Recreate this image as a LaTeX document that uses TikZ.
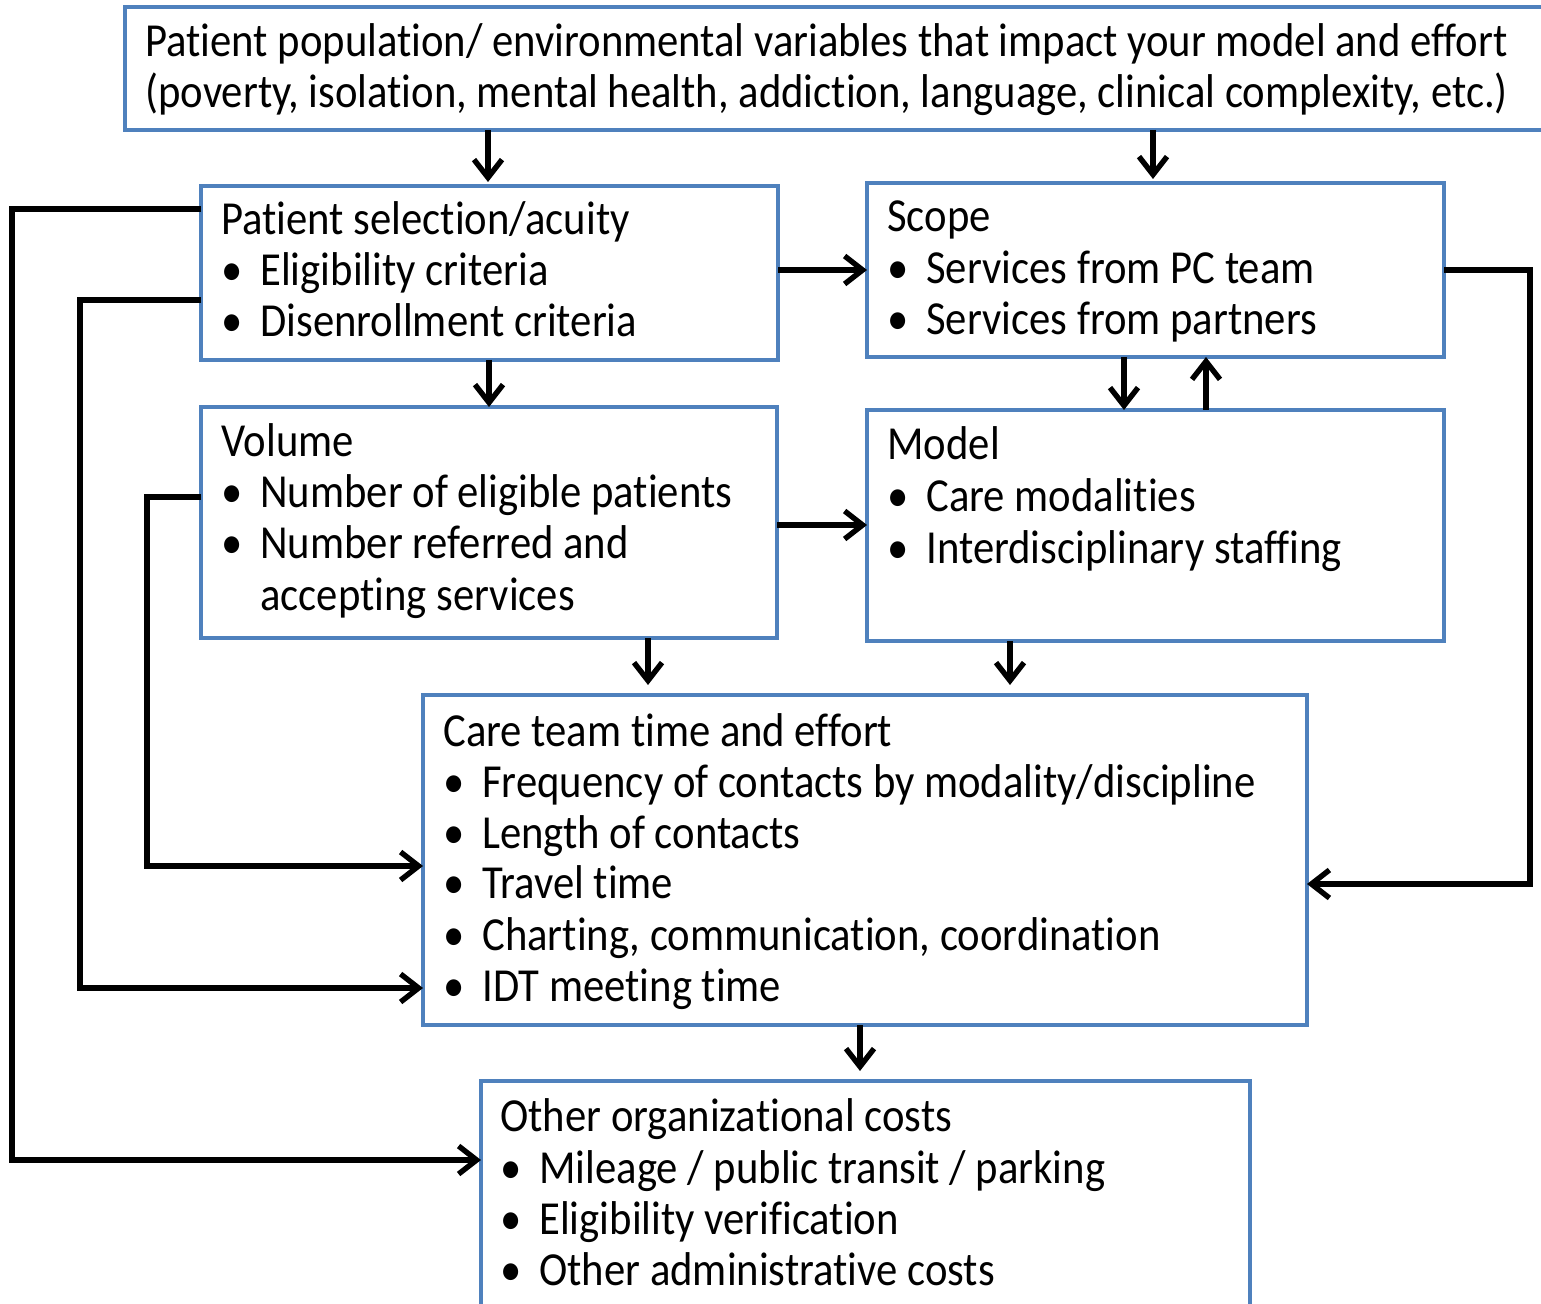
\documentclass[tikz,border=0pt]{standalone}
\usepackage{fontspec}
\setmainfont{Carlito}[Ligatures={NoCommon},FakeStretch=0.9]
\usetikzlibrary{arrows.meta,fit}
\definecolor{boxblue}{HTML}{4F81BD}
\newcommand\mybul{\makebox[19.5pt][l]{•}}
\begin{document}
\begin{tikzpicture}[x=0.5pt,y=-0.5pt,
  box/.style={draw=boxblue,line width=2.4pt,inner sep=0pt,outer sep=0pt},
  conn/.style={line width=2.7pt,-{Straight Barb[length=9pt,width=14pt]},line join=miter},
  lbl/.style={anchor=base west,inner sep=0pt,font=\fontsize{23.7}{25.5}\selectfont}]
\useasboundingbox (0,0) rectangle (1541,1304);
% boxes
\node[box,fit={(125,7)(1560,130)}] (top) {};
\node[box,fit={(201,186)(778,360)}] (p1) {};
\node[box,fit={(867,183)(1444,357)}] (sc) {};
\node[box,fit={(201,407)(777,638)}] (vo) {};
\node[box,fit={(867,410)(1444,641)}] (mo) {};
\node[box,fit={(423,695)(1307,1025)}] (ct) {};
\node[box,fit={(481,1081)(1250,1330)}] (oc) {};
% texts
\node[lbl] (t1) at (145,57) {Patient population/ environmental variables that impact your model and effort};
\node[lbl] (t2) at (145,108) {(poverty, isolation, mental health, addiction, language, clinical complexity, etc.)};
\node[lbl] (p1a) at (221,235) {Patient selection/acuity};
\node[lbl] (p1b) at (221,286) {\mybul Eligibility criteria};
\node[lbl] (p1c) at (221,337) {\mybul Disenrollment criteria};
\node[lbl] (sca) at (887,232) {Scope};
\node[lbl] (scb) at (887,284) {\mybul Services from PC team};
\node[lbl] (scc) at (887,335) {\mybul Services from partners};
\node[lbl] (voa) at (221,457) {Volume};
\node[lbl] (vob) at (221,508) {\mybul Number of eligible patients};
\node[lbl] (voc) at (221,559) {\mybul Number referred and};
\node[lbl] (vod) at (260,610) {accepting services};
\node[lbl] (moa) at (887,460) {Model};
\node[lbl] (mob) at (887,511) {\mybul Care modalities};
\node[lbl] (moc) at (887,563) {\mybul Interdisciplinary staffing};
\node[lbl] (cta) at (443,746) {Care team time and effort};
\node[lbl] (ctb) at (443,797) {\mybul Frequency of contacts by modality/discipline};
\node[lbl] (ctc) at (443,848) {\mybul Length of contacts};
\node[lbl] (ctd) at (443,898) {\mybul Travel time};
\node[lbl] (cte) at (443,950) {\mybul Charting, communication, coordination};
\node[lbl] (ctf) at (443,1001) {\mybul IDT meeting time};
\node[lbl] (oca) at (500,1131) {Other organizational costs};
\node[lbl] (ocb) at (500,1183) {\mybul Mileage / public transit / parking};
\node[lbl] (occ) at (500,1234) {\mybul Eligibility verification};
\node[lbl] (ocd) at (500,1285) {\mybul Other administrative costs};
% helper coordinates
\coordinate (xa) at (488,0);
\coordinate (xb) at (1153,0);
\coordinate (xc) at (489,0);
\coordinate (xd) at (1124,0);
\coordinate (xe) at (1206,0);
\coordinate (xf) at (648,0);
\coordinate (xg) at (1010,0);
\coordinate (xh) at (860,0);
\coordinate (ya) at (0,270);
\coordinate (yb) at (0,525);
\coordinate (yc) at (0,209);
\coordinate (yd) at (0,300);
\coordinate (ye) at (0,497);
\coordinate (yf) at (0,1160);
\coordinate (yg) at (0,884);
\coordinate (yh) at (0,988);
\coordinate (yi) at (0,866);
% connectors
\draw[conn,shorten >=2pt] (top.south -| xa) -- (p1.north -| xa);
\draw[conn,shorten >=2pt] (top.south -| xb) -- (sc.north -| xb);
\draw[conn] (p1.east |- ya) -- (sc.west |- ya);
\draw[conn] (p1.south -| xc) -- (vo.north -| xc);
\draw[conn] (sc.south -| xd) -- (mo.north -| xd);
\draw[conn] (mo.north -| xe) -- (sc.south -| xe);
\draw[conn] (vo.east |- yb) -- (mo.west |- yb);
\draw[conn,shorten >=5pt] (vo.south -| xf) -- (ct.north -| xf);
\draw[conn,shorten >=5pt] (mo.south -| xg) -- (ct.north -| xg);
\draw[conn,shorten >=5pt] (ct.south -| xh) -- (oc.north -| xh);
\draw[conn] (sc.east |- ya) -- ++(86,0) |- (ct.east |- yg);
\draw[conn] (p1.west |- yc) -- ++(-189,0) |- (oc.west |- yf);
\draw[conn] (p1.west |- yd) -- ++(-121,0) |- (ct.west |- yh);
\draw[conn] (vo.west |- ye) -- ++(-54,0) |- (ct.west |- yi);
\end{tikzpicture}
\end{document}
